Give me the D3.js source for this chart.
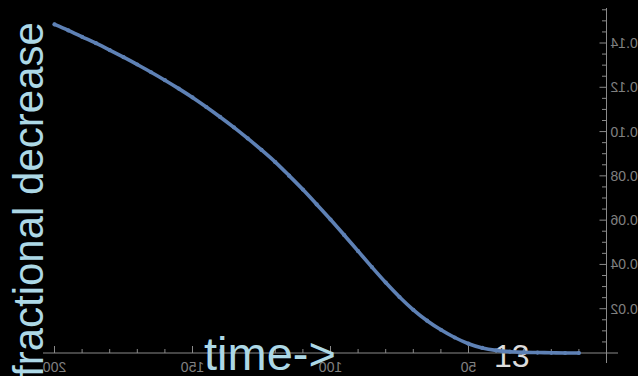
<!DOCTYPE html>
<html>
<head>
<meta charset="utf-8">
<script src="https://cdn.jsdelivr.net/npm/d3@7"></script>
<style>
  html, body { margin: 0; padding: 0; background: #000; }
  svg { display: block; }
</style>
</head>
<body>
<svg id="chart" width="638" height="376"></svg>
<script>
// Fractional decrease against time (time axis runs right-to-left, glyphs mirrored)
const times  = [200, 195, 190, 185, 180, 175, 170, 165, 160, 155, 150, 145, 140, 135, 130, 125, 120, 115, 110, 105, 100,
                95, 90, 85, 80, 75, 70, 65, 60, 55, 50, 45, 40, 35, 30, 25, 20, 15, 10];
const values = [0.1484, 0.1457, 0.1428, 0.1399, 0.1368, 0.1336, 0.1303, 0.1268, 0.1232, 0.1194, 0.1154, 0.1111, 0.1066, 0.1019, 0.0969, 0.0917, 0.0862, 0.0801, 0.0738, 0.0671, 0.0603,
                0.0532, 0.0460, 0.0388, 0.0318, 0.0253, 0.0195, 0.0146, 0.0105, 0.0070, 0.0042, 0.0023, 0.0012, 0.0006, 0.0003, 0.0002, 0.0001, 0.0000, 0.0000];

const xMajorTicks = [50, 100, 150, 200];
const xMinorTicks = [10, 20, 30, 40, 60, 70, 80, 90, 110, 120, 130, 140, 160, 170, 180, 190];
const yMajorTicks = [0.02, 0.04, 0.06, 0.08, 0.10, 0.12, 0.14];
const yMinorTicks = [0.005, 0.01, 0.015, 0.025, 0.03, 0.035, 0.045, 0.05, 0.055, 0.065, 0.07, 0.075,
                     0.085, 0.09, 0.095, 0.105, 0.11, 0.115, 0.125, 0.13, 0.135, 0.145, 0.15, 0.155];
const xTickLabels = ["50", "100", "150", "200"];
const yTickLabels = ["0.02", "0.04", "0.06", "0.08", "0.10", "0.12", "0.14"];

const svg = d3.select("#chart");
const W = 638, H = 376;

svg.append("rect").attr("width", W).attr("height", H).attr("fill", "#000");

const x = d3.scaleLinear().domain([0, 200]).range([606.5, 54.5]);
const y = d3.scaleLinear().domain([0, 0.14]).range([353, 43]);

const axisColor = "#8a8a8a";
const labelColor = "#808080";
const tickFont = "'Liberation Sans', Arial, sans-serif";

// Free-floating annotation, sits underneath the data
svg.append("text")
  .attr("x", 494).attr("y", 367)
  .attr("font-family", tickFont)
  .attr("font-size", 32)
  .attr("fill", "#dcdcdc")
  .text("13");

// Axes (lines run a little past the data range, as in the plot padding)
const axes = svg.append("g");
axes.append("line")
  .attr("x1", 43).attr("x2", 618)
  .attr("y1", y(0)).attr("y2", y(0))
  .attr("stroke", axisColor).attr("stroke-width", 1);
axes.append("line")
  .attr("x1", x(0)).attr("x2", x(0))
  .attr("y1", 8).attr("y2", 363)
  .attr("stroke", axisColor).attr("stroke-width", 1);

// x ticks point up into the plot
axes.selectAll(".xmaj").data(xMajorTicks).join("line")
  .attr("x1", d => x(d)).attr("x2", d => x(d))
  .attr("y1", y(0)).attr("y2", y(0) - 7)
  .attr("stroke", axisColor);
axes.selectAll(".xmin").data(xMinorTicks).join("line")
  .attr("x1", d => x(d)).attr("x2", d => x(d))
  .attr("y1", y(0)).attr("y2", y(0) - 4)
  .attr("stroke", axisColor);

// y ticks point left into the plot
axes.selectAll(".ymaj").data(yMajorTicks).join("line")
  .attr("x1", x(0)).attr("x2", x(0) - 7)
  .attr("y1", d => y(d)).attr("y2", d => y(d))
  .attr("stroke", axisColor);
axes.selectAll(".ymin").data(yMinorTicks).join("line")
  .attr("x1", x(0)).attr("x2", x(0) - 4.5)
  .attr("y1", d => y(d)).attr("y2", d => y(d))
  .attr("stroke", axisColor);

// Tick labels, glyphs mirrored horizontally
axes.selectAll(".xlab").data(xMajorTicks).join("g")
  .attr("transform", d => `translate(${x(d)},371.5) scale(-1,1)`)
  .append("text")
  .attr("text-anchor", "middle")
  .attr("font-family", tickFont)
  .attr("font-size", 14)
  .attr("fill", labelColor)
  .text((d, i) => xTickLabels[i]);

axes.selectAll(".ylab").data(yMajorTicks).join("g")
  .attr("transform", d => `translate(${x(0) + 4},${y(d) + 5}) scale(-1,1)`)
  .append("text")
  .attr("text-anchor", "end")
  .attr("font-family", tickFont)
  .attr("font-size", 14)
  .attr("fill", labelColor)
  .text((d, i) => yTickLabels[i]);

// Data series
const pts = times.map((t, i) => [t, values[i]]);
const line = d3.line().x(d => x(d[0])).y(d => y(d[1])).curve(d3.curveMonotoneX);
svg.append("path")
  .datum(pts)
  .attr("d", line)
  .attr("fill", "none")
  .attr("stroke", "#5e81b5")
  .attr("stroke-width", 3.6)
  .attr("stroke-linecap", "round")
  .attr("stroke-linejoin", "round");
svg.selectAll(".pt").data(pts).join("circle")
  .attr("cx", d => x(d[0])).attr("cy", d => y(d[1]))
  .attr("r", 2.1)
  .attr("fill", "#5e81b5");

// Axis titles
const titleFont = "'Liberation Sans', Arial, Helvetica, sans-serif";
svg.append("text")
  .attr("transform", "translate(43,377) rotate(-90)")
  .attr("font-family", titleFont)
  .attr("font-size", 42)
  .attr("fill", "#add8e6")
  .text("fractional decrease");

svg.append("text")
  .attr("x", 204).attr("y", 370)
  .attr("font-family", titleFont)
  .attr("font-size", 47)
  .attr("fill", "#add8e6")
  .text("time->");
</script>
</body>
</html>
